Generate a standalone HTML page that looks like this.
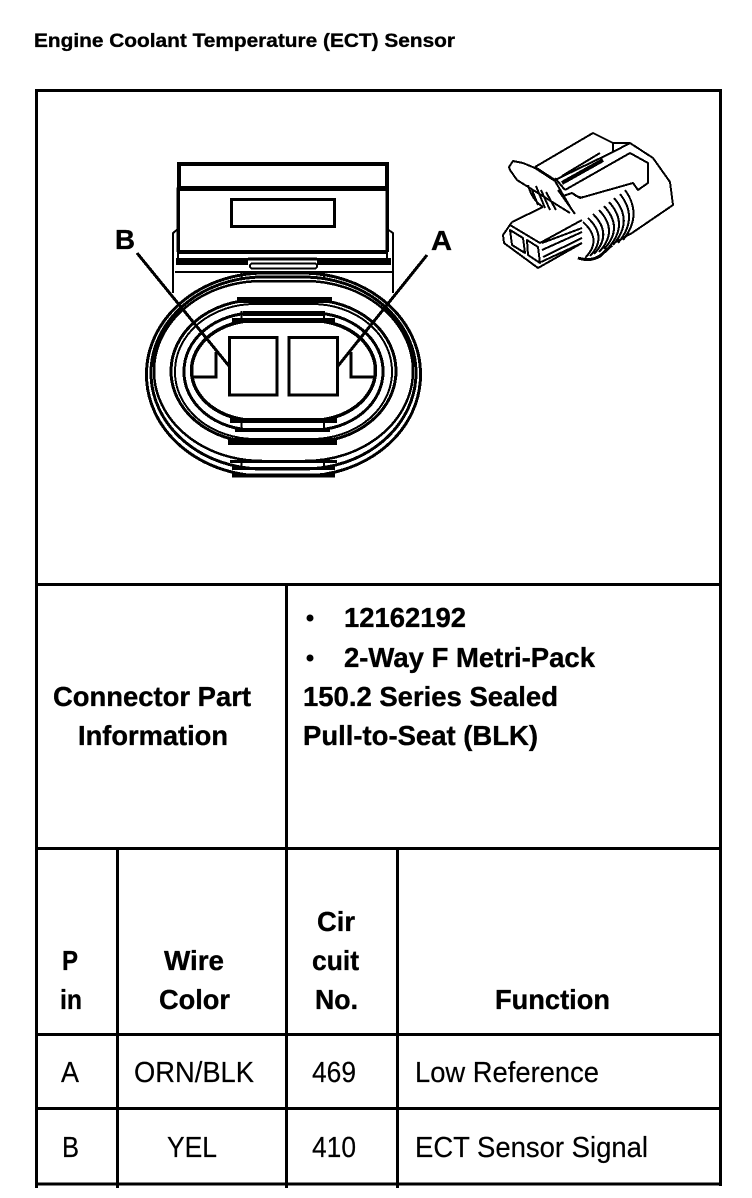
<!DOCTYPE html>
<html><head><meta charset="utf-8"><style>
html,body{margin:0;padding:0;background:#fff;width:752px;height:1198px;overflow:hidden}
svg{display:block}
text{font-family:"Liberation Sans",sans-serif;fill:#000}
.b{font-weight:bold;font-size:28px;stroke:#000;stroke-width:.35px}
.r{font-size:29px;stroke:#000;stroke-width:.2px}
</style></head><body>
<svg width="752" height="1198" viewBox="0 0 752 1198" xmlns="http://www.w3.org/2000/svg">
<rect width="752" height="1198" fill="#fff"/>
<text class="b" style="font-size:19.5px" x="34" y="47" textLength="421" lengthAdjust="spacingAndGlyphs">Engine Coolant Temperature (ECT) Sensor</text>

<!-- grid -->
<g stroke="#000" stroke-width="3" fill="none" shape-rendering="crispEdges">
<path d="M35 90.5H722M35 584.5H722M35 848.5H722M35 1034.5H722M35 1108.5H722M35 1184H722"/>
<path d="M36.5 89V1188M720.500 89V1186M286.500 584V1188M117.500 848V1188M397.500 848V1188"/>
</g>

<!-- connector front view -->
<g fill="none" stroke="#000" stroke-width="3" shape-rendering="crispEdges">
<rect x="179" y="164" width="208" height="24" stroke-width="4"/>
<path d="M178 252V189H387V252" stroke-width="3.5"/>
<rect x="231.500" y="199.500" width="103" height="27" stroke-width="3"/>
<path d="M178 252H387" stroke-width="4"/>
<path d="M176 261.500H248M317 261.500H391" stroke-width="7"/>
<path d="M248 259H317" stroke-width="3"/>
<path d="M178 229L173 233V293M387 229L393 233V293" stroke-width="2"/>
<path d="M178 229V258M387 229V258" stroke-width="2"/>
<rect x="250" y="263.500" width="67" height="5" rx="2.500" stroke-width="2"/>
<path d="M175 272H393" stroke-width="2"/>

<!-- rings -->
<rect x="146.500" y="273" width="274" height="203" rx="118" ry="101" stroke-width="3"/>
<rect x="151" y="277" width="265" height="192" rx="112" ry="96" stroke-width="3"/>
<rect x="154" y="281" width="259" height="180" rx="108" ry="90" stroke-width="2.500"/>
<rect x="171" y="300" width="225" height="142" rx="85" ry="71" stroke-width="3"/>
<rect x="175" y="304" width="217" height="135" rx="80" ry="67" stroke-width="2"/>
<rect x="184" y="313" width="199" height="117" rx="70" ry="58" stroke-width="3"/>
<rect x="191.500" y="320.500" width="184" height="100" rx="64" ry="50" stroke-width="3.500"/>
<path d="M237 300H332" stroke-width="6"/>
<path d="M228 441.500H337" stroke-width="7"/>
<path d="M243 313.500H325" stroke-width="5"/>
<path d="M235 430H330" stroke-width="4"/>
<path d="M232 320.500H335" stroke-width="5"/>
<path d="M230 420.500H337" stroke-width="5"/>
<path d="M230 461.500H337M232 468.500H335" stroke-width="3"/>
<path d="M232 475.500H335" stroke-width="4"/>
<path d="M241.500 311V319M324 311V319M241.500 423V430M324 423V430M241.500 272V280M324 272V280M241.500 461V468M324 461V468" stroke-width="2"/>

<!-- inner -->
<path d="M216 352V377H191" stroke-width="3"/>
<path d="M351 352V377H376" stroke-width="3"/>
<path d="M137 253L229 366M427 255L338 366" stroke-width="3"/>
<rect x="229.500" y="337.500" width="47.500" height="57.500" fill="#fff" stroke-width="3"/>
<rect x="289" y="337.500" width="48.500" height="57.500" fill="#fff" stroke-width="3"/>
</g>
<text x="115" y="249" style="font-size:28px" class="b" textLength="20" lengthAdjust="spacingAndGlyphs">B</text>
<text x="431" y="250" style="font-size:28px" class="b" textLength="21" lengthAdjust="spacingAndGlyphs">A</text>

<!-- 3D connector -->
<g fill="none" stroke="#000" stroke-width="2" stroke-linejoin="round" shape-rendering="crispEdges">
<path d="M535 167L593 133L613 143L630 143L653 158L670 182L673 205L632 233L612 244"/>
<path d="M613 143V152L555 180L535 167"/>
<path d="M555 178L565 190"/>
<path d="M600 153L562 176M613 152L630 143"/>
<path d="M562 183L603 160" stroke-width="4"/>
<path d="M565 190L630 153L648 163V183L638 190L633 183L580 198L572 193L563 196"/>
<path d="M523 163L513 161L509 167L510 170L517 180L570 213"/>
<path d="M523 163L535 168L555 181L572 210"/>
<path d="M558 190L575 214"/>
<path d="M532 190L538 205M536 186L545 208M541 190L550 210M546 192L556 210M528 185Q532 200 543 207"/>
<path d="M512 222L543 207M512 222L503 235L504 243L538 268L582 243"/>
<path d="M510 225L540 243L582 220"/>
<path d="M510 230L523 238L525 253L512 245Z"/>
<path d="M527 240L538 247L540 263L528 255Z"/>
<path d="M542 243L582 228M542 250L582 232M543 257L582 238M541 262L582 243"/>
<path d="M572 193Q578 200 590 195" stroke-width="1.500"/>
<path d="M583 222Q603 240 585 258M588 218Q608 237 590 256M593 214Q613 234 594 254M599 210Q619 231 599 252M604 206Q624 228 604 249M609 202Q629 224 609 247M614 198Q634 221 613 245M620 194Q639 218 618 243M625 190Q643 215 623 240"/>
<path d="M578 258Q590 262 600 256L612 245" stroke-width="3"/>
</g>

<!-- connector part -->
<text class="b" x="53" y="706" textLength="198" lengthAdjust="spacingAndGlyphs">Connector Part</text>
<text class="b" x="78" y="745" textLength="150" lengthAdjust="spacingAndGlyphs">Information</text>
<circle cx="310" cy="618" r="3.500"/>
<circle cx="310" cy="658" r="3.500"/>
<text class="b" x="344" y="627" textLength="122" lengthAdjust="spacingAndGlyphs">12162192</text>
<text class="b" x="344" y="667" textLength="251" lengthAdjust="spacingAndGlyphs">2-Way F Metri-Pack</text>
<text class="b" x="303" y="706" textLength="255" lengthAdjust="spacingAndGlyphs">150.2 Series Sealed</text>
<text class="b" x="303" y="745" textLength="235" lengthAdjust="spacingAndGlyphs">Pull-to-Seat (BLK)</text>

<!-- header -->
<text class="b" x="62" y="970" textLength="16" lengthAdjust="spacingAndGlyphs">P</text>
<text class="b" x="60" y="1009" textLength="22" lengthAdjust="spacingAndGlyphs">in</text>
<text class="b" x="164" y="970" textLength="60" lengthAdjust="spacingAndGlyphs">Wire</text>
<text class="b" x="159" y="1009" textLength="71" lengthAdjust="spacingAndGlyphs">Color</text>
<text class="b" x="317" y="931" textLength="38" lengthAdjust="spacingAndGlyphs">Cir</text>
<text class="b" x="312" y="970" textLength="47" lengthAdjust="spacingAndGlyphs">cuit</text>
<text class="b" x="315" y="1009" textLength="43" lengthAdjust="spacingAndGlyphs">No.</text>
<text class="b" x="495" y="1009" textLength="115" lengthAdjust="spacingAndGlyphs">Function</text>

<!-- rows -->
<text class="r" x="61" y="1082" textLength="18" lengthAdjust="spacingAndGlyphs">A</text>
<text class="r" x="134" y="1082" textLength="120" lengthAdjust="spacingAndGlyphs">ORN/BLK</text>
<text class="r" x="312" y="1082" textLength="44" lengthAdjust="spacingAndGlyphs">469</text>
<text class="r" x="415" y="1082" textLength="184" lengthAdjust="spacingAndGlyphs">Low Reference</text>
<text class="r" x="62" y="1157" textLength="17" lengthAdjust="spacingAndGlyphs">B</text>
<text class="r" x="167" y="1157" textLength="50" lengthAdjust="spacingAndGlyphs">YEL</text>
<text class="r" x="312" y="1157" textLength="44" lengthAdjust="spacingAndGlyphs">410</text>
<text class="r" x="415" y="1157" textLength="233" lengthAdjust="spacingAndGlyphs">ECT Sensor Signal</text>
</svg>
</body></html>
